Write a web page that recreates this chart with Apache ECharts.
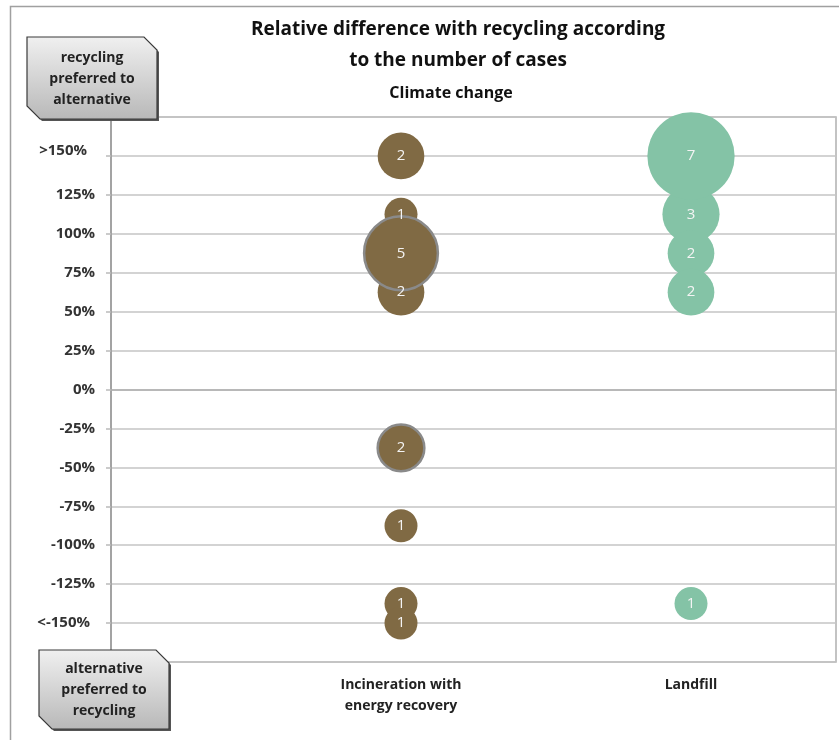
<!DOCTYPE html>
<html><head><meta charset="utf-8">
<script src="https://cdn.jsdelivr.net/npm/echarts@6/dist/echarts.min.js"></script>
<style>html,body{margin:0;padding:0;background:#fff}#c{width:839px;height:740px}</style>
</head><body><div id="c"></div>
<script>
// Data
var categories = ['Incineration with\nenergy recovery', 'Landfill'];
var categoryPos = [1, 2];
var yTickValues = [150, 125, 100, 75, 50, 25, 0, -25, -50, -75, -100, -125, -150];
var yTickLabels = ['>150%', '125%', '100%', '75%', '50%', '25%', '0%', '-25%', '-50%', '-75%', '-100%', '-125%', '<-150%'];
// incineration: relative difference (%) and number of cases
var incinerationY = [150, 112.5, 62.5, -37.5, -87.5, -137.5, -150, 87.5];
var incinerationN = [2, 1, 2, 2, 1, 1, 1, 5];
var incinerationOutlined = [false, false, false, true, false, false, false, true];
var landfillY = [112.5, 87.5, 62.5, -137.5, 150];
var landfillN = [3, 2, 2, 1, 7];

var FONT = 'Open Sans, Lato, sans-serif';
var BROWN = '#806a44', GREEN = '#84c3a6';

function buildData(xPos, ys, ns, outlined) {
  return ys.map(function (y, i) {
    var d = { value: [xPos, y, ns[i]] };
    if (outlined && outlined[i]) d.itemStyle = { borderColor: '#8a8a8a', borderWidth: 2.5 };
    return d;
  });
}
function sizeOf(v) { return 33 * Math.sqrt(v[2]); }

var chart = echarts.init(document.getElementById('c'), null, { renderer: 'canvas' });

function boxPoints(x, y, w, h, c) {
  return [[x, y], [x + w - c, y], [x + w, y + c], [x + w, y + h], [x + c, y + h], [x, y + h - c]];
}
var boxFill = new echarts.graphic.LinearGradient(0, 0, 0, 1, [
  { offset: 0, color: '#f0f0f0' }, { offset: 1, color: '#b8b8b8' }
]);

var labelStyle = {
  show: true, formatter: function (p) { return p.value[2]; },
  color: '#f4f4f4', fontSize: 15, fontFamily: FONT
};

var option = {
  animation: false,
  grid: { left: 111, top: 117, right: 2, bottom: 78, show: true, borderColor: '#b0b0b0', borderWidth: 1.5 },
  xAxis: {
    type: 'value', min: 0, max: 2.5, interval: 1,
    axisLine: { show: true, lineStyle: { color: '#b0b0b0', width: 1.5 } },
    axisTick: { show: false }, splitLine: { show: false },
    axisLabel: {
      margin: 13, color: '#222', fontSize: 14, fontWeight: 'bold', fontFamily: FONT, lineHeight: 21,
      formatter: function (v) { var i = categoryPos.indexOf(v); return i >= 0 ? categories[i] : ''; }
    }
  },
  yAxis: {
    type: 'value', min: -175, max: 175, interval: 25,
    axisLine: { show: true, lineStyle: { color: '#999', width: 1.5 } },
    axisTick: { show: true, length: 5, lineStyle: { color: '#bbb', width: 1.5 } },
    splitLine: { show: true, lineStyle: { color: '#c4c4c4', width: 1.5 } },
    axisLabel: {
      margin: 16, color: '#333', fontSize: 15, fontWeight: 'bold', fontFamily: FONT,
      formatter: function (v) {
        var i = yTickValues.indexOf(v);
        if (i < 0) return '';
        if (v === 150) return '{top|' + yTickLabels[i] + '}';
        if (v === -150) return '{bot|' + yTickLabels[i] + '}';
        return yTickLabels[i];
      },
      rich: {
        top: { fontSize: 15, fontWeight: 'bold', color: '#333', fontFamily: FONT, padding: [0, 8, 10, 0] },
        bot: { fontSize: 15, fontWeight: 'bold', color: '#333', fontFamily: FONT, padding: [0, 5, 0, 0] }
      }
    }
  },
  series: [
    { type: 'scatter', data: buildData(1, incinerationY, incinerationN, incinerationOutlined), symbolSize: sizeOf,
      itemStyle: { color: BROWN, opacity: 1 }, label: labelStyle, z: 3 },
    { type: 'scatter', data: buildData(2, landfillY, landfillN, null), symbolSize: sizeOf,
      itemStyle: { color: GREEN, opacity: 1 }, label: labelStyle, z: 3 }
  ],
  graphic: [
    { type: 'rect', shape: { x: 10.5, y: 6.5, width: 840, height: 760 }, style: { fill: 'none', stroke: '#a0a0a0', lineWidth: 1.5 }, silent: true, z: 0 },
    { type: 'text', x: 458, y: 14, style: { text: 'Relative difference with recycling according\nto the number of cases', textAlign: 'center', fill: '#111', font: 'bold 19px ' + FONT, lineHeight: 31 }, z: 10 },
    { type: 'text', x: 451, y: 85, style: { text: 'Climate change', textAlign: 'center', fill: '#111', font: 'bold 16px ' + FONT }, z: 10 },
    { type: 'polygon', shape: { points: boxPoints(29, 39, 130, 82, 13) }, style: { fill: '#555' }, z: 10 },
    { type: 'polygon', shape: { points: boxPoints(27, 37, 130, 82, 13) }, style: { fill: boxFill, stroke: '#3a3a3a', lineWidth: 1.2 }, z: 11 },
    { type: 'text', x: 92, y: 48, style: { text: 'recycling\npreferred to\nalternative', textAlign: 'center', fill: '#222', font: 'bold 14px ' + FONT, lineHeight: 21 }, z: 12 },
    { type: 'polygon', shape: { points: boxPoints(41, 652, 130, 79, 13) }, style: { fill: '#555' }, z: 10 },
    { type: 'polygon', shape: { points: boxPoints(39, 650, 130, 79, 13) }, style: { fill: boxFill, stroke: '#3a3a3a', lineWidth: 1.2 }, z: 11 },
    { type: 'text', x: 104, y: 659, style: { text: 'alternative\npreferred to\nrecycling', textAlign: 'center', fill: '#222', font: 'bold 14px ' + FONT, lineHeight: 21 }, z: 12 }
  ]
};
chart.setOption(option);
</script>
</body></html>
